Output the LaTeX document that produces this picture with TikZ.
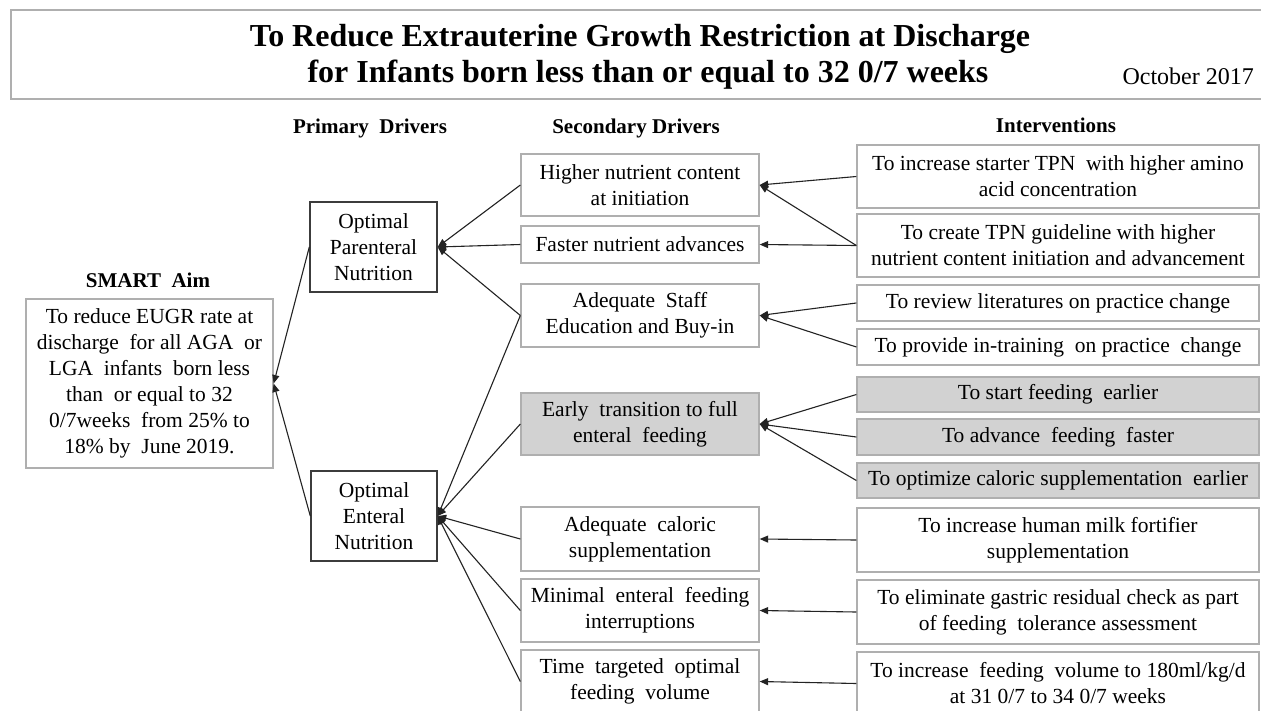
\documentclass[tikz,border=0pt]{standalone}
\usepackage{fontspec}
\setmainfont{Liberation Serif}
\usetikzlibrary{arrows.meta}
\definecolor{boxgray}{RGB}{210,210,210}
\definecolor{edgegray}{RGB}{175,175,175}
\definecolor{darkedge}{RGB}{60,60,60}
\definecolor{linecol}{RGB}{35,35,35}
\tikzset{
  body/.style={font=\fontsize{21.5}{26}\selectfont},
  header/.style={font=\fontsize{21}{25}\selectfont\bfseries, inner sep=0pt},
  titletext/.style={font=\fontsize{32}{36}\selectfont\bfseries, anchor=base, inner sep=0pt},
  lightbox/.style={body, draw=edgegray, line width=1.3pt, fill=white, align=center, inner sep=0pt},
  darkbox/.style={body, draw=darkedge, line width=1.4pt, fill=white, align=center, inner sep=0pt},
  shadebox/.style={lightbox, fill=boxgray},
  conn/.style={draw=linecol, line width=1.1pt, -{Triangle[length=8.5pt,width=7pt]}},
}
\begin{document}
\begin{tikzpicture}[x=1pt,y=-1pt]
\clip (0,0) rectangle (1261,710);
\fill[white] (0,0) rectangle (1261,710);
% title
\draw[edgegray, line width=2pt] (1275,10) -- (11,10) -- (11,98.5) -- (1275,98.5);
\node[titletext] (title1) at (640,46) {To Reduce Extrauterine Growth Restriction at Discharge};
\node[titletext] (title2) at (648,82) {for Infants born less than or equal to 32 0/7 weeks};
\node[font=\fontsize{24}{28}\selectfont, anchor=base east, inner sep=0pt] (date) at (1254,84) {October 2017};
% headers
\node[header] (hsmart) at (148,280) {SMART~ Aim};
\node[header] (hprim) at (370,128) {Primary~~Drivers};
\node[header] (hsec) at (636,128) {Secondary Drivers};
\node[header] (hint) at (1056,125) {Interventions};
% aim
\node[lightbox, minimum width=247pt, minimum height=169pt] (aim) at (149.5,383.5)
  {To reduce EUGR rate at\\ discharge~ for all AGA~ or\\ LGA~ infants~ born less\\ than~ or equal to 32\\ 0/7weeks~ from 25\%~to\\ 18\%~by~ June 2019.};
% primary
\node[darkbox, minimum width=127pt, minimum height=90pt] (opn) at (373.5,247) {Optimal\\ Parenteral\\ Nutrition};
\node[darkbox, minimum width=126pt, minimum height=90pt] (oen) at (374,516) {Optimal\\ Enteral\\ Nutrition};
% secondary
\node[lightbox, minimum width=238pt, minimum height=62pt] (s1) at (640,185) {Higher nutrient content\\ at initiation};
\node[lightbox, minimum width=238pt, minimum height=37pt] (s2) at (640,244.5) {Faster nutrient advances};
\node[lightbox, minimum width=238pt, minimum height=63pt] (s3) at (640,315.5) {Adequate~ Staff\\ Education and Buy-in};
\node[shadebox, minimum width=238pt, minimum height=62pt] (s4) at (640,424) {Early~ transition to full\\ enteral~ feeding};
\node[lightbox, minimum width=238pt, minimum height=64pt] (s5) at (640,539) {Adequate~ caloric\\ supplementation};
\node[lightbox, minimum width=238pt, minimum height=63pt] (s6) at (640,610.5) {Minimal~ enteral~ feeding\\ interruptions};
\node[lightbox, minimum width=238pt, minimum height=63pt] (s7) at (640,681.5) {Time~ targeted~ optimal\\ feeding~ volume};
% interventions
\node[lightbox, minimum width=402pt, minimum height=63pt] (i1) at (1058,176.5) {To increase starter TPN~ with higher amino\\ acid concentration};
\node[lightbox, minimum width=402pt, minimum height=63pt] (i2) at (1058,245.5) {To create TPN guideline with higher\\ nutrient content initiation and advancement};
\node[lightbox, minimum width=402pt, minimum height=36pt] (i3) at (1058,303) {To review literatures on practice change};
\node[lightbox, minimum width=402pt, minimum height=36pt] (i4) at (1058,347) {To provide in-training~ on practice~ change};
\node[shadebox, minimum width=402pt, minimum height=35pt] (i5) at (1058,394.5) {To start feeding~ earlier};
\node[shadebox, minimum width=402pt, minimum height=36pt] (i6) at (1058,437) {To advance~ feeding~ faster};
\node[shadebox, minimum width=402pt, minimum height=35pt] (i7) at (1058,480.5) {To optimize caloric supplementation~ earlier};
\node[lightbox, minimum width=402pt, minimum height=64pt] (i8) at (1058,540) {To increase human milk fortifier\\ supplementation};
\node[lightbox, minimum width=402pt, minimum height=64pt] (i9) at (1058,612) {To eliminate gastric residual check as part\\ of feeding~ tolerance assessment};
\node[lightbox, minimum width=402pt, minimum height=63pt] (i10) at (1058,683.5) {To increase~ feeding~ volume to 180ml/kg/d\\ at 31 0/7 to 34 0/7 weeks};
% connectors: interventions -> secondary
\draw[conn] (i1.west) -- (s1.east);
\draw[conn] (i2.west) -- (s1.east);
\draw[conn] (i2.west) -- (s2.east);
\draw[conn] (i3.west) -- (s3.east);
\draw[conn] (i4.west) -- (s3.east);
\draw[conn] (i5.west) -- (s4.east);
\draw[conn] (i6.west) -- (s4.east);
\draw[conn] (i7.west) -- (s4.east);
\draw[conn] (i8.west) -- (s5.east);
\draw[conn] (i9.west) -- (s6.east);
\draw[conn] (i10.west) -- (s7.east);
% secondary -> primary
\draw[conn] (s1.west) -- (opn.east);
\draw[conn] (s2.west) -- (opn.east);
\draw[conn] (s3.west) -- (opn.east);
\draw[conn] (s3.west) -- (oen.east);
\draw[conn] (s4.west) -- (oen.east);
\draw[conn] (s5.west) -- (oen.east);
\draw[conn] (s6.west) -- (oen.east);
\draw[conn] (s7.west) -- (oen.east);
% primary -> aim
\draw[conn] (opn.west) -- (aim.east);
\draw[conn] (oen.west) -- (aim.east);
\end{tikzpicture}
\end{document}
